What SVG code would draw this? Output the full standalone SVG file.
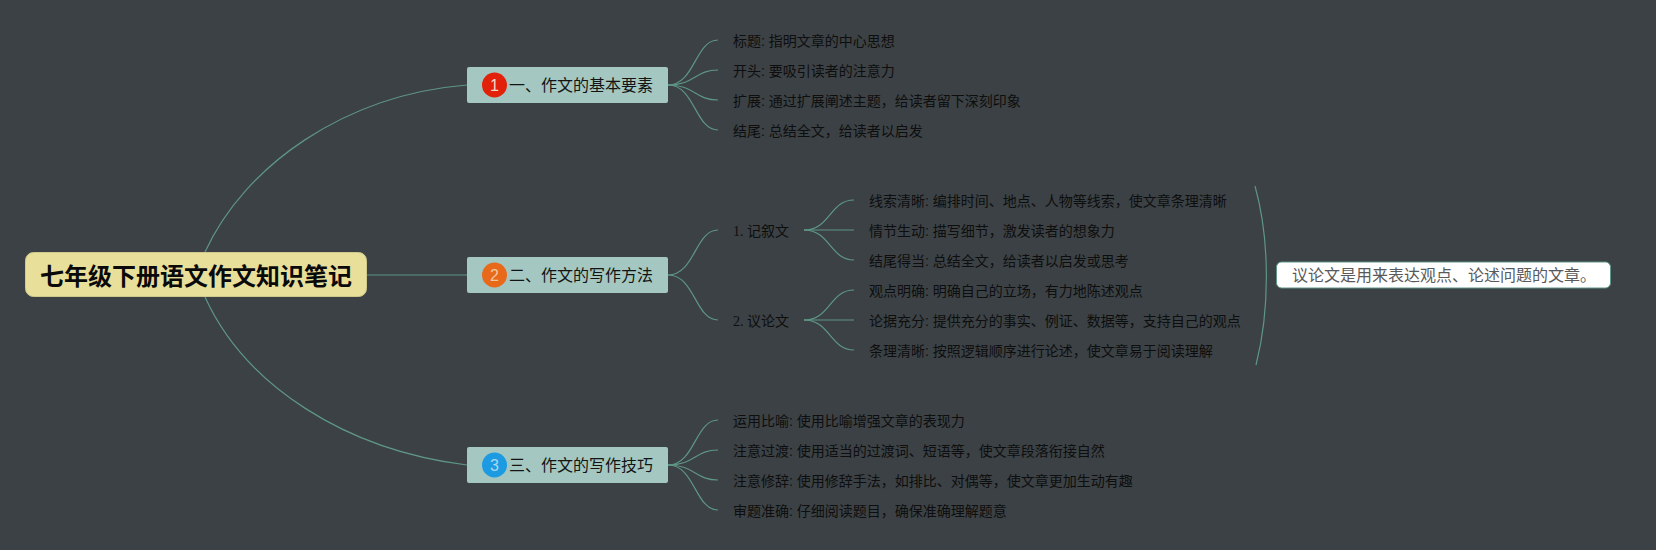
<svg xmlns="http://www.w3.org/2000/svg" width="1656" height="550" viewBox="0 0 1656 550">
<style>
text{font-family:"Liberation Sans","Noto Sans CJK SC",sans-serif;fill:#141414}
.c path{fill:none;stroke:#5f9686;stroke-width:1.2}
.m rect{fill:#a4c8c1;}
.m text{font-size:16px}
.l{font-size:14px;fill:#0e0e0e}
.s{font-family:"Liberation Serif","Noto Sans CJK SC",serif}
.n{font-size:16px;text-anchor:middle}
.lab{fill:#141414}
</style>
<rect width="1656" height="550" fill="#3b4144"/>
<g class="c" id="connectors">
<path d="M367 275H467" stroke-width="1.4"/>
<path d="M205 252C245 165 345 95 467 85"/>
<path d="M205 297C245 385 345 450 467 465"/>
<path d="M668 85C695 85 695 40 718 40"/><path d="M668 85C695 85 695 70 718 70"/><path d="M668 85C695 85 695 100 718 100"/><path d="M668 85C695 85 695 130 718 130"/>
<path d="M668 275C695 275 695 230 718 230"/><path d="M668 275C695 275 695 320 718 320"/>
<path d="M804 230C830 230 830 200 854 200"/><path d="M804 230H854"/><path d="M804 230C830 230 830 260 854 260"/>
<path d="M804 320C830 320 830 290 854 290"/><path d="M804 320H854"/><path d="M804 320C830 320 830 350 854 350"/>
<path d="M668 465C695 465 695 420 718 420"/><path d="M668 465C695 465 695 450 718 450"/><path d="M668 465C695 465 695 480 718 480"/><path d="M668 465C695 465 695 510 718 510"/>
<path d="M1255 186C1270 240 1270 310 1256 365"/>
</g>
<g id="root"><rect x="25.500" y="252.500" width="341" height="44" rx="8" fill="#e8df9a" stroke="#cfc98c"/><text x="196" y="285" text-anchor="middle" font-size="24" font-weight="700" style="fill:#0a0a0a">七年级下册语文作文知识笔记</text></g>
<g id="n1" class="m"><rect x="467" y="67" width="201" height="36" rx="2"/><circle cx="494.500" cy="85" r="12.500" fill="#e2210a"/><text class="n" x="494.500" y="91" style="fill:#f3d8c8">1</text><text x="509" y="91">一、作文的基本要素</text></g>
<g id="n2" class="m"><rect x="467" y="257" width="201" height="36" rx="2"/><circle cx="494.500" cy="275" r="12.500" fill="#e8691a"/><text class="n" x="494.500" y="281" style="fill:#f0c8a0">2</text><text x="509" y="281">二、作文的写作方法</text></g>
<g id="n3" class="m"><rect x="467" y="447" width="201" height="36" rx="2"/><circle cx="494.500" cy="465" r="12.500" fill="#1c9be3"/><text class="n" x="494.500" y="471" style="fill:#a8d8f0">3</text><text x="509" y="471">三、作文的写作技巧</text></g>
<g id="a1"><text class="l" x="733" y="46">标题: 指明文章的中心思想</text></g>
<g id="a2"><text class="l" x="733" y="76">开头: 要吸引读者的注意力</text></g>
<g id="a3"><text class="l" x="733" y="106">扩展: 通过扩展阐述主题，给读者留下深刻印象</text></g>
<g id="a4"><text class="l" x="733" y="136">结尾: 总结全文，给读者以启发</text></g>
<g id="b1"><text class="l s" x="733" y="236">1. 记叙文</text></g>
<g id="b2"><text class="l s" x="733" y="326">2. 议论文</text></g>
<g id="c1"><text class="l" x="869" y="206">线索清晰: 编排时间、地点、人物等线索，使文章条理清晰</text></g>
<g id="c2"><text class="l" x="869" y="236">情节生动: 描写细节，激发读者的想象力</text></g>
<g id="c3"><text class="l" x="869" y="266">结尾得当: 总结全文，给读者以启发或思考</text></g>
<g id="c4"><text class="l" x="869" y="296">观点明确: 明确自己的立场，有力地陈述观点</text></g>
<g id="c5"><text class="l" x="869" y="326">论据充分: 提供充分的事实、例证、数据等，支持自己的观点</text></g>
<g id="c6"><text class="l" x="869" y="356">条理清晰: 按照逻辑顺序进行论述，使文章易于阅读理解</text></g>
<g id="d1"><text class="l" x="733" y="426">运用比喻: 使用比喻增强文章的表现力</text></g>
<g id="d2"><text class="l" x="733" y="456">注意过渡: 使用适当的过渡词、短语等，使文章段落衔接自然</text></g>
<g id="d3"><text class="l" x="733" y="486">注意修辞: 使用修辞手法，如排比、对偶等，使文章更加生动有趣</text></g>
<g id="d4"><text class="l" x="733" y="516">审题准确: 仔细阅读题目，确保准确理解题意</text></g>
<g id="summary"><rect x="1276.500" y="262" width="334" height="26" rx="5" fill="#fff" stroke="#5f9686"/><text x="1292" y="281" font-size="16" style="fill:#5a5a5a">议论文是用来表达观点、论述问题的文章。</text></g>
</svg>
